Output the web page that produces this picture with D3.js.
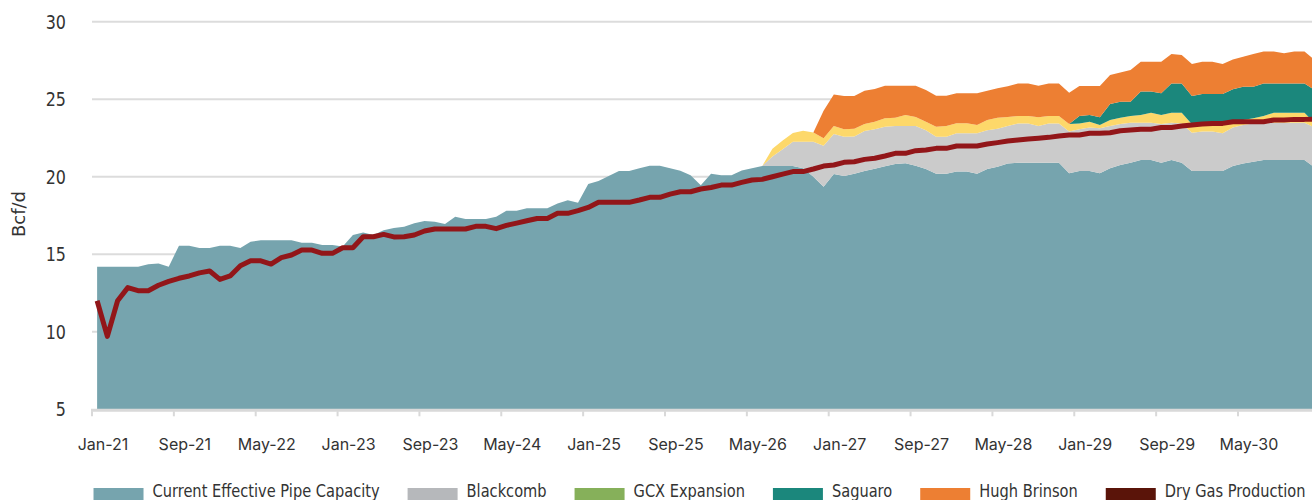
<!DOCTYPE html>
<html>
<head>
<meta charset="utf-8">
<script src="https://cdn.jsdelivr.net/npm/d3@7"></script>
<style>
  html, body { margin: 0; padding: 0; background: #fff; }
  svg { display: block; }
  .cond { font-family: "DejaVu Sans", sans-serif; }
  .xlab { font-family: Inter, "Open Sans", sans-serif; }
</style>
</head>
<body>
<svg id="chart" width="1312" height="500"></svg>
<script>
// Monthly series, Jan-21 .. Dec-30 (Bcf/d)
const tickLabels = ["Jan-21","Sep-21","May-22","Jan-23","Sep-23","May-24","Jan-25","Sep-25",
                    "May-26","Jan-27","Sep-27","May-28","Jan-29","Sep-29","May-30"];

const capacity = [
  14.2,14.2,14.2,14.2,14.2,14.35,14.4,14.2,15.55,15.55,15.4,15.4,
  15.55,15.55,15.4,15.8,15.9,15.9,15.9,15.9,15.75,15.75,15.6,15.6,
  15.5,16.25,16.4,16.25,16.55,16.7,16.77,17.0,17.15,17.1,16.95,17.42,
  17.27,17.27,17.27,17.42,17.8,17.8,17.96,17.96,17.96,18.28,18.48,18.32,
  19.53,19.72,20.05,20.37,20.37,20.54,20.71,20.71,20.54,20.39,20.1,19.45,
  20.2,20.1,20.1,20.4,20.55,20.7,20.7,20.7,20.7,20.54,20.0,19.35,
  20.17,20.05,20.2,20.37,20.52,20.67,20.82,20.87,20.71,20.5,20.2,20.2,
  20.33,20.33,20.2,20.5,20.65,20.85,20.91,20.91,20.91,20.91,20.91,20.22,
  20.37,20.37,20.22,20.54,20.76,20.91,21.08,21.08,20.91,21.08,20.91,20.37,
  20.37,20.37,20.37,20.69,20.86,20.97,21.08,21.08,21.08,21.08,21.08,20.6
];

const blackcomb = [
  0,0,0,0,0,0,0,0,0,0,0,0,
  0,0,0,0,0,0,0,0,0,0,0,0,
  0,0,0,0,0,0,0,0,0,0,0,0,
  0,0,0,0,0,0,0,0,0,0,0,0,
  0,0,0,0,0,0,0,0,0,0,0,0,
  0,0,0,0,0,0,0.6,1.08,1.56,1.72,2.26,2.65,
  2.58,2.53,2.4,2.58,2.54,2.56,2.45,2.4,2.56,2.5,2.38,2.38,
  2.47,2.47,2.6,2.5,2.45,2.42,2.53,2.53,2.36,2.53,2.53,2.69,
  2.69,2.81,2.9,2.73,2.64,2.58,2.41,2.41,2.49,2.41,2.53,2.47,
  2.54,2.54,2.43,2.49,2.48,2.47,2.36,2.41,2.41,2.41,2.41,2.58
];

const gcxExpansion = [
  0,0,0,0,0,0,0,0,0,0,0,0,
  0,0,0,0,0,0,0,0,0,0,0,0,
  0,0,0,0,0,0,0,0,0,0,0,0,
  0,0,0,0,0,0,0,0,0,0,0,0,
  0,0,0,0,0,0,0,0,0,0,0,0,
  0,0,0,0,0,0,0.5,0.55,0.56,0.7,0.59,0.48,
  0.52,0.48,0.5,0.45,0.49,0.54,0.53,0.71,0.58,0.55,0.65,0.69,
  0.65,0.65,0.53,0.66,0.7,0.58,0.48,0.48,0.56,0.48,0.48,0.49,
  0.38,0.37,0.22,0.39,0.41,0.43,0.49,0.64,0.58,0.64,0.69,0.54,
  0.47,0.47,0.58,0.26,0.32,0.33,0.48,0.64,0.64,0.64,0.64,0.26
];

const saguaro = [
  0,0,0,0,0,0,0,0,0,0,0,0,
  0,0,0,0,0,0,0,0,0,0,0,0,
  0,0,0,0,0,0,0,0,0,0,0,0,
  0,0,0,0,0,0,0,0,0,0,0,0,
  0,0,0,0,0,0,0,0,0,0,0,0,
  0,0,0,0,0,0,0,0,0,0,0,0,
  0,0,0,0,0,0,0,0,0,0,0,0,
  0,0,0,0,0,0,0,0,0,0,0,0,
  0.48,0.43,0.49,1.03,1.03,0.92,1.51,1.36,1.4,1.89,1.89,1.83,
  1.96,1.96,1.96,2.2,2.15,2.04,2.1,1.89,1.89,1.89,1.89,2.16
];

const hughBrinson = [
  0,0,0,0,0,0,0,0,0,0,0,0,
  0,0,0,0,0,0,0,0,0,0,0,0,
  0,0,0,0,0,0,0,0,0,0,0,0,
  0,0,0,0,0,0,0,0,0,0,0,0,
  0,0,0,0,0,0,0,0,0,0,0,0,
  0,0,0,0,0,0,0,0,0,0,0,1.77,
  2.03,2.14,2.1,2.15,2.11,2.1,2.07,1.89,2.02,2.05,2.0,1.96,
  1.93,1.93,2.05,1.89,1.9,1.98,2.1,2.1,2.04,2.1,2.1,2.02,
  1.93,1.87,2.02,1.87,1.89,2.04,1.93,1.93,2.04,1.9,1.83,2.06,
  2.08,2.08,1.93,1.93,1.93,2.11,2.05,2.05,1.94,2.05,2.05,1.93
];

const dryGasProduction = [
  12.0,9.7,12.0,12.85,12.65,12.65,13.0,13.25,13.45,13.6,13.8,13.92,
  13.38,13.6,14.26,14.58,14.58,14.37,14.78,14.95,15.27,15.27,15.06,15.06,
  15.42,15.42,16.13,16.13,16.28,16.12,16.13,16.24,16.5,16.63,16.63,16.63,
  16.63,16.8,16.8,16.65,16.86,17.01,17.16,17.31,17.31,17.64,17.64,17.81,
  18.02,18.35,18.35,18.35,18.35,18.5,18.67,18.67,18.88,19.03,19.03,19.21,
  19.31,19.46,19.46,19.64,19.79,19.83,20.0,20.17,20.33,20.33,20.5,20.69,
  20.76,20.93,20.97,21.12,21.19,21.34,21.51,21.51,21.68,21.72,21.83,21.83,
  21.98,21.98,21.98,22.11,22.2,22.3,22.37,22.43,22.48,22.54,22.63,22.69,
  22.69,22.8,22.8,22.84,22.97,23.01,23.06,23.06,23.18,23.18,23.27,23.34,
  23.4,23.44,23.44,23.55,23.55,23.55,23.55,23.66,23.66,23.7,23.7,23.72
];

const seriesKeys = ["capacity","blackcomb","gcx","saguaro","hugh"];
const seriesColors = { capacity: "#76a4ae", blackcomb: "#cbcbcb", gcx: "#fdd86a", saguaro: "#1b877c", hugh: "#ed7f33" };

const legendItems = [
  { label: "Current Effective Pipe Capacity", color: "#76a4ae" },
  { label: "Blackcomb", color: "#b6b8bb" },
  { label: "GCX Expansion", color: "#86b05a" },
  { label: "Saguaro", color: "#1b877c" },
  { label: "Hugh Brinson", color: "#ed7f33" },
  { label: "Dry Gas Production", color: "#5a1409" }
];

const rows = capacity.map((c, i) => ({
  i, capacity: c, blackcomb: blackcomb[i], gcx: gcxExpansion[i],
  saguaro: saguaro[i], hugh: hughBrinson[i], dry: dryGasProduction[i]
}));

const svg = d3.select("#chart");
const x0 = 92, monthW = 10.232, nMonths = capacity.length;
const x = d3.scaleLinear().domain([0, nMonths]).range([x0, x0 + nMonths * monthW]);
const y = d3.scaleLinear().domain([5, 30]).range([409.3, 21.7]);
const mid = i => x(i + 0.5);

// narrow text: DejaVu squeezed horizontally
function narrowText(parent, px, py, size, str, anchor, squeeze) {
  return parent.append("text")
    .attr("class", "cond")
    .attr("transform", `translate(${px},${py}) scale(${squeeze},1)`)
    .attr("text-anchor", anchor || "start")
    .attr("font-size", size)
    .attr("fill", "#333")
    .text(str);
}

// horizontal gridlines
svg.append("g").selectAll("line")
  .data([10, 15, 20, 25, 30]).join("line")
  .attr("x1", x0).attr("x2", 1312)
  .attr("y1", d => y(d)).attr("y2", d => y(d))
  .attr("stroke", "#dcdcdc").attr("stroke-width", 2);

// stacked capacity areas
const stacked = d3.stack().keys(seriesKeys)(rows);
const area = d3.area()
  .x(d => mid(d.data.i))
  .y0(d => y(d[0] === 0 ? 5 : d[0]))
  .y1(d => y(d[1]));
svg.append("g").selectAll("path")
  .data(stacked).join("path")
  .attr("fill", d => seriesColors[d.key])
  .attr("d", d => area(d));

// x axis baseline and ticks
const tickIdx = tickLabels.map((_, k) => k * 8);
svg.append("line")
  .attr("x1", x0 - 1).attr("x2", 1312)
  .attr("y1", y(5) + 1).attr("y2", y(5) + 1)
  .attr("stroke", "#d9d9d9").attr("stroke-width", 3);
svg.append("g").selectAll("line")
  .data(tickIdx).join("line")
  .attr("x1", d => x(d)).attr("x2", d => x(d))
  .attr("y1", y(5) + 2).attr("y2", y(5) + 7)
  .attr("stroke", "#d9d9d9").attr("stroke-width", 2);
svg.append("g").selectAll("text")
  .data(tickLabels).join("text")
  .attr("class", "xlab")
  .attr("x", (d, k) => x(tickIdx[k]) + 11)
  .attr("y", 450)
  .attr("text-anchor", "middle")
  .attr("font-size", 16)
  .attr("fill", "#333")
  .text(d => d);

// y axis labels
const yAxisG = svg.append("g");
[5, 10, 15, 20, 25, 30].forEach(v => narrowText(yAxisG, 66, y(v) + 7, 19, String(v), "end", 0.84));

svg.append("text")
  .attr("class", "cond")
  .attr("transform", "translate(25,214) rotate(-90)")
  .attr("text-anchor", "middle")
  .attr("font-size", 18)
  .attr("fill", "#333")
  .text("Bcf/d");

// production line
const line = d3.line().x(d => mid(d.i)).y(d => y(d.dry));
svg.append("path")
  .datum(rows)
  .attr("fill", "none")
  .attr("stroke", "#921619")
  .attr("stroke-width", 5)
  .attr("stroke-linejoin", "round")
  .attr("d", line);

// legend
const LEG_SQUEEZE = 0.79;
const lg = svg.append("g");
let cursor = 0;
legendItems.forEach(item => {
  const g = lg.append("g").attr("transform", `translate(${cursor},0)`);
  g.append("rect").attr("x", 0).attr("y", 488).attr("width", 50).attr("height", 14).attr("fill", item.color);
  const t = narrowText(g, 59, 497, 18.5, item.label, "start", LEG_SQUEEZE);
  cursor += 59 + t.node().getComputedTextLength() * LEG_SQUEEZE + 28;
});
const totalW = cursor - 28;
lg.attr("transform", `translate(${699.5 - totalW / 2},0)`);
</script>
</body>
</html>
